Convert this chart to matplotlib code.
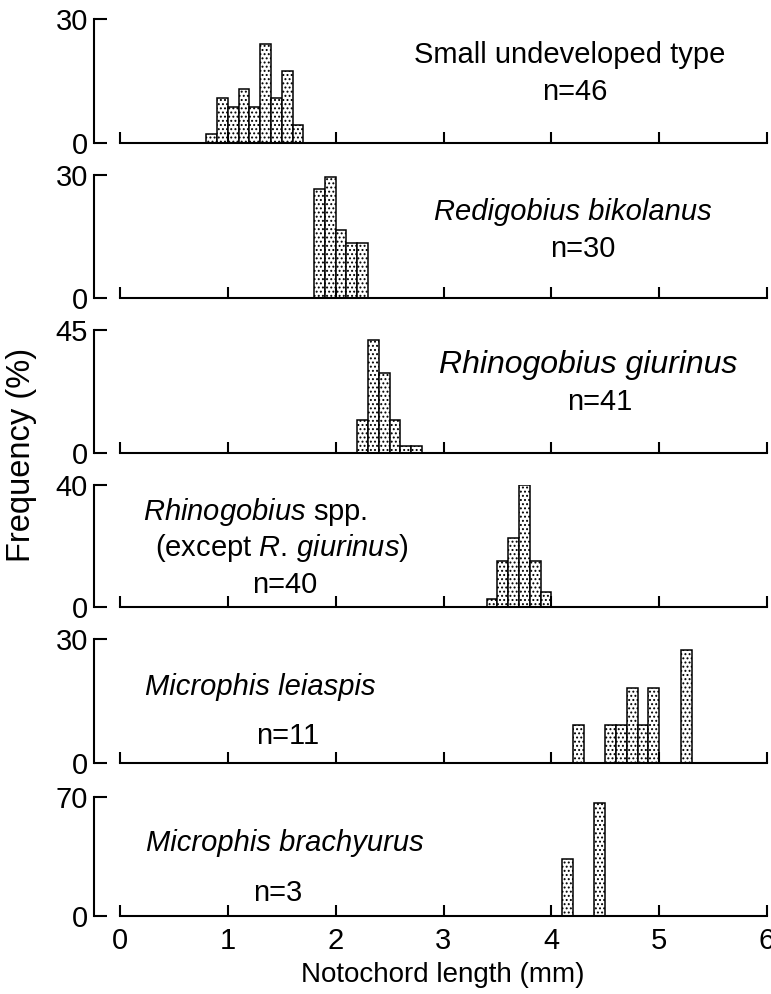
import numpy as np
import matplotlib
matplotlib.use("Agg")
import matplotlib.pyplot as plt

# --- fonts ---
plt.rcParams['font.family'] = ['Liberation Sans', 'DejaVu Sans']
plt.rcParams['mathtext.fontset'] = 'custom'
plt.rcParams['mathtext.rm'] = 'Liberation Sans'
plt.rcParams['mathtext.it'] = 'Liberation Sans:italic'
plt.rcParams['hatch.linewidth'] = 0.9

# --- data (bin left edge in mm, frequency in %) ---
BIN_WIDTH = 0.1

small_bins = [0.8, 0.9, 1.0, 1.1, 1.2, 1.3, 1.4, 1.5, 1.6]
small_freq = [2.2, 10.9, 8.7, 13.0, 8.7, 23.9, 10.9, 17.4, 4.3]

redigobius_bins = [1.8, 1.9, 2.0, 2.1, 2.2]
redigobius_freq = [26.7, 29.4, 16.7, 13.3, 13.3]

giurinus_bins = [2.2, 2.3, 2.4, 2.5, 2.6, 2.7]
giurinus_freq = [12.2, 41.5, 29.3, 12.2, 2.4, 2.4]

rhino_spp_bins = [3.4, 3.5, 3.6, 3.7, 3.8, 3.9]
rhino_spp_freq = [2.5, 15.0, 22.5, 40.0, 15.0, 5.0]

leiaspis_bins = [4.2, 4.5, 4.6, 4.7, 4.8, 4.9, 5.2]
leiaspis_freq = [9.1, 9.1, 9.1, 18.2, 9.1, 18.2, 27.3]

brachyurus_bins = [4.1, 4.4]
brachyurus_freq = [33.3, 66.7]

y_tops = [30, 30, 45, 40, 30, 70]
x_ticks = [0, 1, 2, 3, 4, 5, 6]

# name lines shown in each panel: (text, x in mm, y as axes fraction, italic, size)
labels = [
    [("Small undeveloped type", 4.17, 0.71, False, 21), ("n=46", 4.22, 0.41, False, 21)],
    [("Redigobius bikolanus", 4.20, 0.70, True, 21), ("n=30", 4.29, 0.40, False, 21)],
    [("Rhinogobius giurinus", 4.34, 0.715, True, 23), ("n=41", 4.45, 0.415, False, 21)],
    [(r"$\it{Rhinogobius}$ spp.", 1.25, 0.78, False, 21),
     (r"(except $\it{R.\,giurinus}$)", 1.50, 0.48, False, 21),
     ("n=40", 1.53, 0.18, False, 21)],
    [("Microphis leiaspis", 1.30, 0.61, True, 21), ("n=11", 1.55, 0.22, False, 21)],
    [("Microphis brachyurus", 1.53, 0.61, True, 21), ("n=3", 1.46, 0.19, False, 21)],
]

panels = [
    (small_bins, small_freq),
    (redigobius_bins, redigobius_freq),
    (giurinus_bins, giurinus_freq),
    (rhino_spp_bins, rhino_spp_freq),
    (leiaspis_bins, leiaspis_freq),
    (brachyurus_bins, brachyurus_freq),
]

# panel frames in pixels: (baseline y, top tick y)
W, H = 771, 994
frames = [(143, 19), (298, 175), (453, 330), (607, 485), (763, 639), (916, 797)]
X0_PX, X6_PX = 120, 767

fig = plt.figure(figsize=(W / 100, H / 100), dpi=100)

for i, ((bins, freq), (base, top), ymax, lab) in enumerate(zip(panels, frames, y_tops, labels)):
    ax = fig.add_axes([X0_PX / W, 1 - base / H, (X6_PX - X0_PX) / W, (base - top) / H])
    ax.bar(bins, freq, width=BIN_WIDTH, align='edge', facecolor='white',
           edgecolor='black', linewidth=1.1, hatch='....')
    ax.set_xlim(0, 6)
    ax.set_ylim(0, ymax)
    ax.patch.set_visible(False)

    for side in ['top', 'right']:
        ax.spines[side].set_visible(False)
    ax.spines['left'].set_position(('outward', 19))
    ax.spines['left'].set_linewidth(1.5)
    ax.spines['bottom'].set_linewidth(1.5)

    ax.set_yticks([0, ymax])
    ax.set_xticks(x_ticks)
    ax.tick_params(axis='y', direction='in', length=9, width=1.5, pad=4, labelsize=21)
    ax.tick_params(axis='x', direction='in', length=8, width=1.5, pad=8, labelsize=21)
    if i < len(panels) - 1:
        ax.set_xticklabels([])

    for text, tx, ty, italic, size in lab:
        ax.text(tx, ty, text, transform=ax.get_xaxis_transform(), ha='center', va='center',
                fontsize=size, style='italic' if italic else 'normal')

fig.text(22 / W, 1 - 455 / H, "Frequency (%)", rotation=90, ha='center', va='center', fontsize=23.5)
fig.text(443 / W, 1 - 975 / H, "Notochord length (mm)", ha='center', va='center', fontsize=20)

fig.savefig("out.png", dpi=100)
